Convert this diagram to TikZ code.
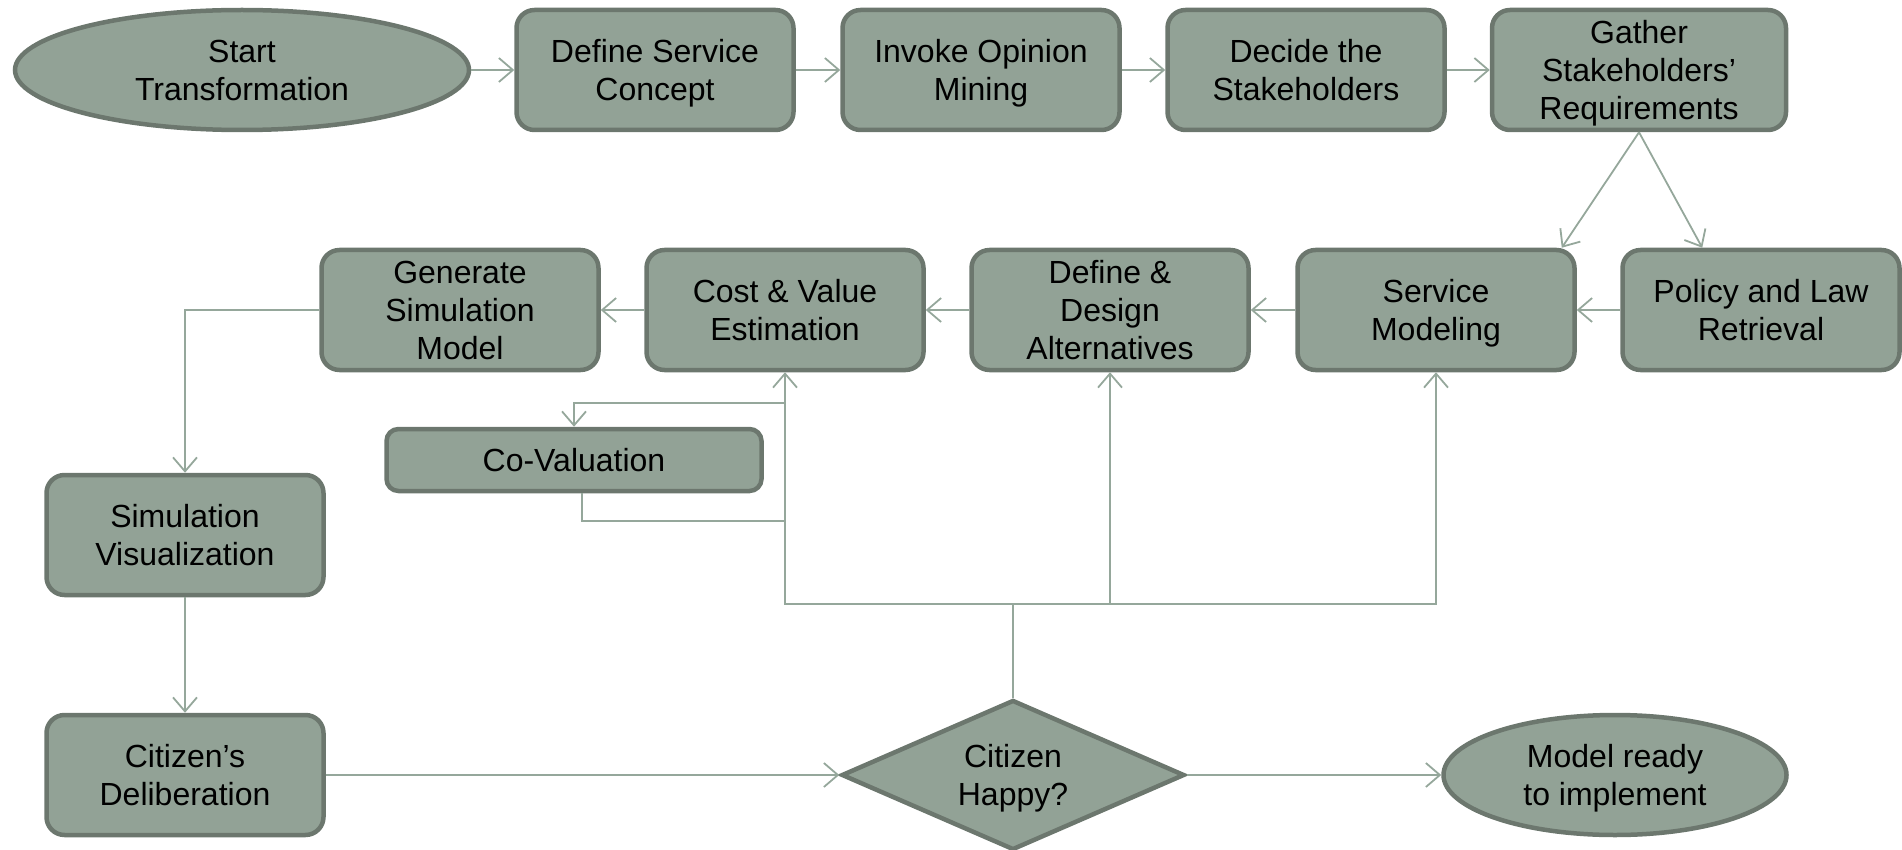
\documentclass[tikz,border=0pt]{standalone}
\usepackage{fontspec}
\setmainfont{Liberation Sans}
\usetikzlibrary{shapes.geometric,arrows.meta,calc}
\definecolor{boxfill}{HTML}{92A296}
\definecolor{boxedge}{HTML}{6C776E}
\definecolor{wire}{HTML}{95A79B}
\begin{document}
\begin{tikzpicture}[x=1pt,y=-1pt,
  shapetext/.style={font=\fontsize{32}{38}\selectfont, align=center, text=black,
    text depth=-2pt},
  procbox/.style={shapetext, draw=boxedge, fill=boxfill, line width=4.5pt, rounded corners=18pt,
    minimum width=277pt, minimum height=120pt, inner sep=0pt},
  termnode/.style={shapetext, draw=boxedge, fill=boxfill, line width=4.5pt, ellipse,
    minimum height=120pt, inner sep=0pt},
  decision/.style={shapetext, draw=boxedge, fill=boxfill, line width=4.5pt, diamond, aspect=2.29,
    minimum width=343pt, minimum height=150pt, inner sep=0pt},
  conn/.style={draw=wire, line width=1.8pt, -{Straight Barb[length=14pt,width=24pt]}},
  wireline/.style={draw=wire, line width=1.8pt}]
\useasboundingbox (0,0) rectangle (1902,850);

% top row
\node[termnode, minimum width=454pt] (start) at (242,70) {Start\\Transformation};
\node[procbox] (dsc) at (655,70) {Define Service\\Concept};
\node[procbox] (iom) at (981,70) {Invoke Opinion\\Mining};
\node[procbox] (dts) at (1306,70) {Decide the\\Stakeholders};
\node[procbox, minimum width=294pt] (gsr) at (1639,70) {Gather\\Stakeholders’\\Requirements};

% second row
\node[procbox] (gen) at (460,310) {Generate\\Simulation\\Model};
\node[procbox] (cost) at (785,310) {Cost \& Value\\Estimation};
\node[procbox] (dad) at (1110,310) {Define \&\\Design\\Alternatives};
\node[procbox] (svc) at (1436,310) {Service\\Modeling};
\node[procbox] (pol) at (1761,310) {Policy and Law\\Retrieval};

% side box
\node[procbox, minimum width=375pt, minimum height=62pt, rounded corners=12pt] (coval) at (574,460) {Co-Valuation};

% left column and bottom row
\node[procbox] (simvis) at (185,535) {Simulation\\Visualization};
\node[procbox] (delib) at (185,775) {Citizen’s\\Deliberation};
\node[decision] (happy) at (1013,775) {Citizen\\Happy?};
\node[termnode, minimum width=343pt] (ready) at (1615,775) {Model ready\\to implement};

% top row flow
\draw[conn] (start) -- (dsc);
\draw[conn] (dsc) -- (iom);
\draw[conn] (iom) -- (dts);
\draw[conn] (dts) -- (gsr);

% requirements split
\draw[conn] (gsr.south) -- ([xshift=-15pt]svc.north east);
\draw[conn] (gsr.south) -- ([xshift=82pt]pol.north west);

% second row flow (right to left)
\draw[conn] (pol) -- (svc);
\draw[conn] (svc) -- (dad);
\draw[conn] (dad) -- (cost);
\draw[conn] (cost) -- (gen);

% down the left side
\draw[conn] (gen.west) -| (simvis.north);
\draw[conn] (simvis) -- (delib);
\draw[conn] (delib.east) -- (happy.west);
\draw[conn] (happy.east) -- (ready.west);

% feedback from the decision
\coordinate (fb) at ([yshift=94pt]happy.north);
\draw[wireline] (happy.north) -- (fb);
\draw[conn] (fb) -| (cost.south);
\draw[conn] (fb) -| (dad.south);
\draw[conn] (fb) -| (svc.south);

% co-valuation loop
\draw[conn] ([yshift=-31pt]cost.south) -| (coval.north);
\draw[wireline] ([xshift=8pt]coval.south) |- ([yshift=-149pt]cost.south);
\end{tikzpicture}
\end{document}
